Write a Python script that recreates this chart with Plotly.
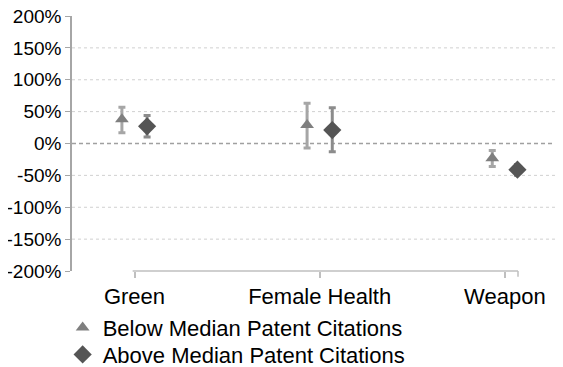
import plotly.graph_objects as go

categories = ["Green", "Female Health", "Weapon"]
cat_pos = [0, 1, 2]

below_vals = [38, 29, -23]
below_hi = [57, 63, -11]
below_lo = [17, -7, -36]

above_vals = [27, 21, -41]
above_hi = [44, 56, -33]
above_lo = [10, -13, -50]

y_ticks = [-200, -150, -100, -50, 0, 50, 100, 150, 200]
y_labels = [f"{v}%" for v in y_ticks]
y_grid = [v for v in y_ticks if v not in (-200, 0, 200)]

OFF = 0.068
FONT = "Liberation Sans, Arial, sans-serif"

fig = go.Figure()

fig.add_trace(go.Scatter(
    x=[p - OFF for p in cat_pos], y=below_vals, mode="markers",
    name="Below Median Patent Citations", legend="legend",
    marker=dict(symbol="triangle-up", size=12, color="#7f7f7f"),
    error_y=dict(type="data", symmetric=False,
                 array=[h - v for h, v in zip(below_hi, below_vals)],
                 arrayminus=[v - l for v, l in zip(below_vals, below_lo)],
                 color="#a6a6a6", thickness=3, width=3.5),
    cliponaxis=False,
))
fig.add_trace(go.Scatter(
    x=[p + OFF for p in cat_pos], y=above_vals, mode="markers",
    name="Above Median Patent Citations", legend="legend2",
    marker=dict(symbol="diamond", size=14, color="#555555"),
    error_y=dict(type="data", symmetric=False,
                 array=[h - v for h, v in zip(above_hi, above_vals)],
                 arrayminus=[v - l for v, l in zip(above_vals, above_lo)],
                 color="#8c8c8c", thickness=3, width=3.5),
    cliponaxis=False,
))

# gridlines spanning from the y axis to the right edge
for v in y_grid:
    fig.add_shape(type="line", xref="paper", x0=0, x1=1.094, yref="y", y0=v, y1=v,
                  line=dict(color="#d0d0d0", width=1, dash="dot"), layer="below")
fig.add_shape(type="line", xref="paper", x0=0, x1=1.094, yref="y", y0=0, y1=0,
              line=dict(color="#a0a0a0", width=1.5, dash="4px,3px"), layer="below")
# category axis line (starts at the first category, not at the y axis)
fig.add_shape(type="line", xref="paper", x0=0.136, x1=1, yref="paper", y0=0, y1=0,
              line=dict(color="#bfbfbf", width=1.5))
fig.add_shape(type="line", xref="paper", x0=1, x1=1, yref="paper", y0=0, y1=-0.023,
              line=dict(color="#bfbfbf", width=1.5))

leg_common = dict(xanchor="left", yanchor="middle",
                  font=dict(size=22, family=FONT, color="black"),
                  itemsizing="trace", bgcolor="rgba(0,0,0,0)")

fig.update_layout(
    width=555, height=359,
    margin=dict(l=64, r=45, t=8, b=96, autoexpand=False),
    paper_bgcolor="white", plot_bgcolor="white",
    font=dict(family=FONT, color="black"),
    showlegend=True,
    legend=dict(x=-0.021, y=-0.222, **leg_common),
    legend2=dict(x=-0.021, y=-0.328, **leg_common),
    xaxis=dict(domain=[0, 1], range=[-0.3375, 2.071],
               tickvals=cat_pos, ticktext=categories,
               showline=False,
               ticks="outside", ticklen=6, tickcolor="#bfbfbf", tickwidth=1.5,
               showgrid=False, zeroline=False,
               tickfont=dict(size=22, family=FONT, color="black")),
    yaxis=dict(range=[-200, 200], tickvals=y_ticks, ticktext=y_labels,
               anchor="x", ticklabeloverflow="allow",
               showline=True, linecolor="#a6a6a6", linewidth=1.5,
               ticks="outside", ticklen=5, tickcolor="#a6a6a6",
               showgrid=False, zeroline=False,
               tickfont=dict(size=19, family=FONT, color="black")),
)

fig.write_html("out.html")
